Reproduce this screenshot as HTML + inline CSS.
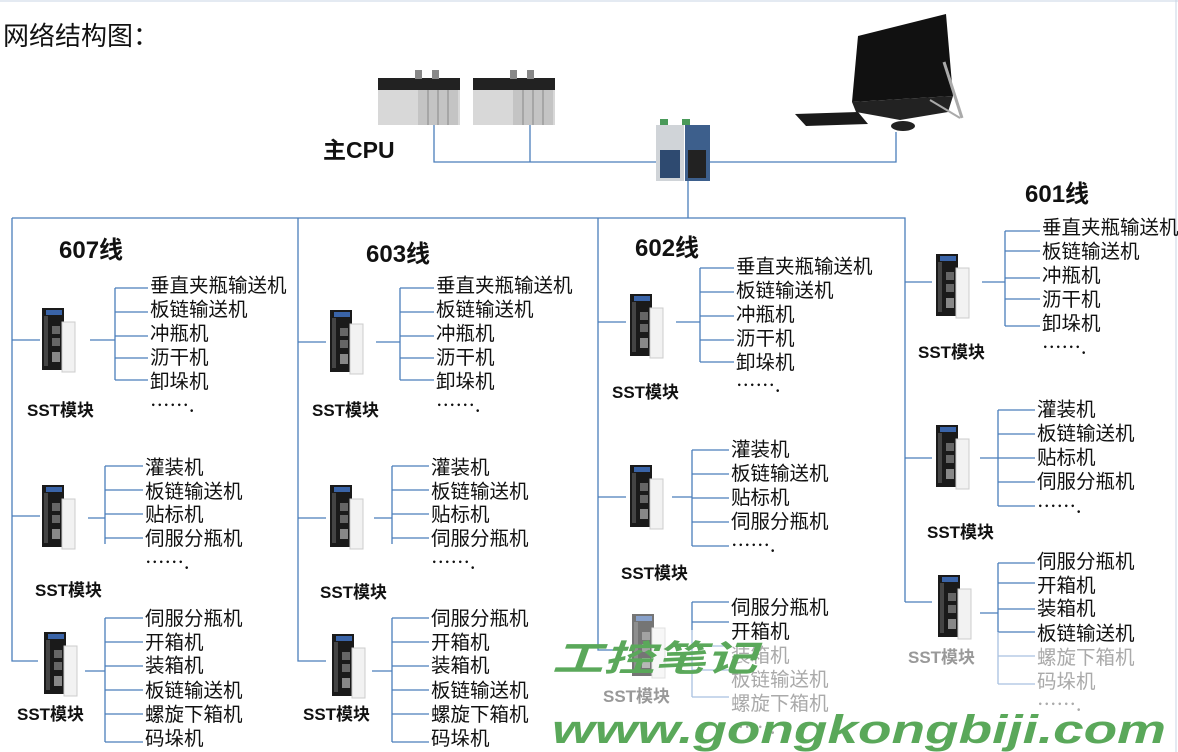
<!DOCTYPE html>
<html><head><meta charset="utf-8">
<style>
html,body{margin:0;padding:0;background:#fff;}
svg{display:block;}
text{font-family:"Liberation Sans","Noto Sans CJK SC",sans-serif;}
.it{font-size:19.5px;fill:#111;font-family:"Noto Sans CJK SC","WenQuanYi Zen Hei",sans-serif;}
.g{fill:#aaa;}
.sst{font-size:17px;font-weight:bold;fill:#111;}
.lbl{font-size:24px;font-weight:bold;fill:#111;}
.ln{stroke:#4a7ebb;stroke-width:1.3;fill:none;}
.lg{stroke:#a9c1e0;stroke-width:1.3;fill:none;}
</style></head><body>
<svg width="1178" height="752" viewBox="0 0 1178 752" xmlns="http://www.w3.org/2000/svg">
<defs>
<g id="mod">
<rect x="0" y="0" width="22" height="62" fill="#1a1a1a"/>
<rect x="4" y="2" width="16" height="5" fill="#3a64a8"/>
<rect x="2" y="8" width="4" height="50" fill="#444"/>
<rect x="10" y="18" width="8" height="8" fill="#666"/>
<rect x="10" y="30" width="8" height="8" fill="#666"/>
<rect x="10" y="44" width="8" height="10" fill="#888"/>
<rect x="20" y="14" width="13" height="50" fill="#f2f2f2" stroke="#ccc" stroke-width="1"/>
</g>
<g id="plc">
<rect x="0" y="12" width="82" height="47" fill="#d8d8d8"/>
<rect x="0" y="12" width="82" height="12" fill="#222"/>
<rect x="37" y="4" width="7" height="9" fill="#888"/>
<rect x="54" y="4" width="7" height="9" fill="#888"/>
<rect x="40" y="24" width="40" height="35" fill="#c4c4c4"/>
<line x1="50" y1="24" x2="50" y2="59" stroke="#888"/>
<line x1="60" y1="24" x2="60" y2="59" stroke="#888"/>
<line x1="70" y1="24" x2="70" y2="59" stroke="#888"/>
</g>
</defs>
<line x1="0" y1="1" x2="1178" y2="1" stroke="#c8d4e4"/>
<line x1="1176" y1="0" x2="1176" y2="752" stroke="#c8d4e4"/>
<text x="3" y="45" style="font-size:26px;font-family:'Noto Sans CJK SC',sans-serif;fill:#111">网络结构图：</text>

<use href="#plc" x="378" y="66"/>
<use href="#plc" x="473" y="66"/>
<text x="323" y="158" style="font-size:23px;font-weight:bold;fill:#111">主CPU</text>
<rect x="656" y="125" width="28" height="56" fill="#d0d4d8"/>
<rect x="685" y="125" width="25" height="56" fill="#3d5f8c"/>
<rect x="688" y="150" width="18" height="28" fill="#222"/>
<rect x="660" y="150" width="20" height="28" fill="#2e4a70"/>
<rect x="660" y="119" width="8" height="6" fill="#4a9a5a"/>
<rect x="682" y="119" width="8" height="6" fill="#4a9a5a"/>
<!-- monitor -->
<polygon points="858,36 946,14 953,96 852,102" fill="#111"/>
<polygon points="852,102 953,96 948,112 900,120 856,112" fill="#222"/>
<line x1="944" y1="62" x2="962" y2="118" stroke="#aaa" stroke-width="3"/>
<line x1="930" y1="100" x2="960" y2="118" stroke="#aaa" stroke-width="2"/>
<polygon points="795,114 858,112 868,124 806,126" fill="#1a1a1a"/>
<ellipse cx="903" cy="126" rx="12" ry="5" fill="#222"/>

<path class="ln" d="M434 125 V162 H656 M530 125 V162 M710 162 H896 V132 M688 181 V218 M12 218 H905 V602"/>
<path class="ln" d="M12 218 V661 H38 M298 218 V661 H326 M598 218 V650 H626"/>

<!-- 607 -->
<text x="59" y="258" class="lbl">607线</text>
<use href="#mod" x="42" y="308"/>
<path class="ln" d="M12 340 H40 M90 340 H115 M115 288 V380 M115 288 H148 M115 312 H148 M115 336 H148 M115 358 H148 M115 380 H148"/>
<text class="it" x="150" y="292">垂直夹瓶输送机</text>
<text class="it" x="150" y="316">板链输送机</text>
<text class="it" x="150" y="340">冲瓶机</text>
<text class="it" x="150" y="364">沥干机</text>
<text class="it" x="150" y="388">卸垛机</text>
<text class="it" x="150" y="412">…….</text>
<text class="sst" x="27" y="416">SST模块</text>

<use href="#mod" x="42" y="485"/>
<path class="ln" d="M12 516 H40 M88 518 H105 M105 466 V544 M105 466 H143 M105 490 H143 M105 514 H143 M105 538 H143"/>
<text class="it" x="145" y="474">灌装机</text>
<text class="it" x="145" y="498">板链输送机</text>
<text class="it" x="145" y="521">贴标机</text>
<text class="it" x="145" y="545">伺服分瓶机</text>
<text class="it" x="145" y="569">…….</text>
<text class="sst" x="35" y="596">SST模块</text>

<use href="#mod" x="44" y="632"/>
<path class="ln" d="M85 671 H105 M105 618 V742 M105 618 H143 M105 642 H143 M105 666 H143 M105 690 H143 M105 714 H143 M105 742 H143"/>
<text class="it" x="145" y="625">伺服分瓶机</text>
<text class="it" x="145" y="649">开箱机</text>
<text class="it" x="145" y="672">装箱机</text>
<text class="it" x="145" y="697">板链输送机</text>
<text class="it" x="145" y="721">螺旋下箱机</text>
<text class="it" x="145" y="745">码垛机</text>
<text class="sst" x="17" y="720">SST模块</text>

<!-- 603 -->
<text x="366" y="262" class="lbl">603线</text>
<use href="#mod" x="330" y="310"/>
<path class="ln" d="M298 342 H326 M376 342 H400 M400 288 V380 M400 288 H434 M400 312 H434 M400 336 H434 M400 358 H434 M400 380 H434"/>
<text class="it" x="436" y="292">垂直夹瓶输送机</text>
<text class="it" x="436" y="316">板链输送机</text>
<text class="it" x="436" y="340">冲瓶机</text>
<text class="it" x="436" y="364">沥干机</text>
<text class="it" x="436" y="388">卸垛机</text>
<text class="it" x="436" y="412">…….</text>
<text class="sst" x="312" y="416">SST模块</text>

<use href="#mod" x="330" y="485"/>
<path class="ln" d="M298 518 H326 M374 518 H392 M392 466 V544 M392 466 H429 M392 490 H429 M392 514 H429 M392 538 H429"/>
<text class="it" x="431" y="474">灌装机</text>
<text class="it" x="431" y="498">板链输送机</text>
<text class="it" x="431" y="521">贴标机</text>
<text class="it" x="431" y="545">伺服分瓶机</text>
<text class="it" x="431" y="569">…….</text>
<text class="sst" x="320" y="598">SST模块</text>

<use href="#mod" x="332" y="634"/>
<path class="ln" d="M372 671 H392 M392 618 V742 M392 618 H429 M392 642 H429 M392 666 H429 M392 690 H429 M392 714 H429 M392 742 H429"/>
<text class="it" x="431" y="625">伺服分瓶机</text>
<text class="it" x="431" y="649">开箱机</text>
<text class="it" x="431" y="672">装箱机</text>
<text class="it" x="431" y="697">板链输送机</text>
<text class="it" x="431" y="721">螺旋下箱机</text>
<text class="it" x="431" y="745">码垛机</text>
<text class="sst" x="303" y="720">SST模块</text>

<!-- 602 -->
<text x="635" y="256" class="lbl">602线</text>
<use href="#mod" x="630" y="294"/>
<path class="ln" d="M598 322 H626 M676 322 H700 M700 268 V362 M700 268 H734 M700 292 H734 M700 316 H734 M700 340 H734 M700 362 H734"/>
<text class="it" x="736" y="273">垂直夹瓶输送机</text>
<text class="it" x="736" y="297">板链输送机</text>
<text class="it" x="736" y="321">冲瓶机</text>
<text class="it" x="736" y="345">沥干机</text>
<text class="it" x="736" y="369">卸垛机</text>
<text class="it" x="736" y="392">…….</text>
<text class="sst" x="612" y="398">SST模块</text>

<use href="#mod" x="630" y="465"/>
<path class="ln" d="M598 497 H626 M672 497 H692 M692 450 V546 M692 450 H729 M692 474 H729 M692 498 H729 M692 522 H729 M692 546 H729"/>
<text class="it" x="731" y="456">灌装机</text>
<text class="it" x="731" y="480">板链输送机</text>
<text class="it" x="731" y="504">贴标机</text>
<text class="it" x="731" y="528">伺服分瓶机</text>
<text class="it" x="731" y="552">…….</text>
<text class="sst" x="621" y="579">SST模块</text>

<use href="#mod" x="632" y="614" opacity="0.6"/>
<path class="ln" d="M692 602 V630 M692 602 H729 M692 622 H729"/>
<path class="lg" d="M692 630 V697 M692 646 H729 M692 670 H729 M692 697 H729"/>
<text class="it" x="731" y="614">伺服分瓶机</text>
<text class="it" x="731" y="638">开箱机</text>
<text class="it g" x="731" y="662">装箱机</text>
<text class="it g" x="731" y="686">板链输送机</text>
<text class="it g" x="731" y="710">螺旋下箱机</text>
<text class="it g" x="731" y="734">…….</text>
<text class="sst" x="603" y="702" style="fill:#999">SST模块</text>

<!-- 601 -->
<text x="1025" y="202" class="lbl">601线</text>
<use href="#mod" x="936" y="254"/>
<path class="ln" d="M905 282 H932 M982 282 H1005 M1005 231 V326 M1005 231 H1040 M1005 251 H1040 M1005 278 H1040 M1005 299 H1040 M1005 326 H1040"/>
<text class="it" x="1042" y="234">垂直夹瓶输送机</text>
<text class="it" x="1042" y="258">板链输送机</text>
<text class="it" x="1042" y="282">冲瓶机</text>
<text class="it" x="1042" y="306">沥干机</text>
<text class="it" x="1042" y="330">卸垛机</text>
<text class="it" x="1042" y="354">…….</text>
<text class="sst" x="918" y="358">SST模块</text>

<use href="#mod" x="936" y="425"/>
<path class="ln" d="M905 458 H932 M980 458 H998 M998 410 V506 M998 410 H1035 M998 434 H1035 M998 458 H1035 M998 482 H1035 M998 506 H1035"/>
<text class="it" x="1037" y="416">灌装机</text>
<text class="it" x="1037" y="440">板链输送机</text>
<text class="it" x="1037" y="464">贴标机</text>
<text class="it" x="1037" y="488">伺服分瓶机</text>
<text class="it" x="1037" y="513">…….</text>
<text class="sst" x="927" y="538">SST模块</text>

<use href="#mod" x="938" y="575"/>
<path class="ln" d="M905 602 H932 M980 613 H998 M998 563 V632 M998 563 H1035 M998 583 H1035 M998 609 H1035 M998 632 H1035"/>
<path class="lg" d="M998 632 V684 M998 656 H1035 M998 684 H1035"/>
<text class="it" x="1037" y="568">伺服分瓶机</text>
<text class="it" x="1037" y="592">开箱机</text>
<text class="it" x="1037" y="615">装箱机</text>
<text class="it" x="1037" y="640">板链输送机</text>
<text class="it g" x="1037" y="664">螺旋下箱机</text>
<text class="it g" x="1037" y="688">码垛机</text>
<text class="it g" x="1037" y="711">…….</text>
<text class="sst" x="908" y="663" style="fill:#999">SST模块</text>

<text x="552" y="671" style="font-size:36px;font-weight:bold;font-style:italic;fill:#5aa85a;font-family:'Noto Sans CJK SC','WenQuanYi Zen Hei',sans-serif" textLength="205" lengthAdjust="spacingAndGlyphs">工控笔记</text>
<text x="552" y="743" style="font-size:40px;font-weight:bold;font-style:italic;fill:#5aa85a" textLength="614" lengthAdjust="spacingAndGlyphs">www.gongkongbiji.com</text>
</svg>
</body></html>
